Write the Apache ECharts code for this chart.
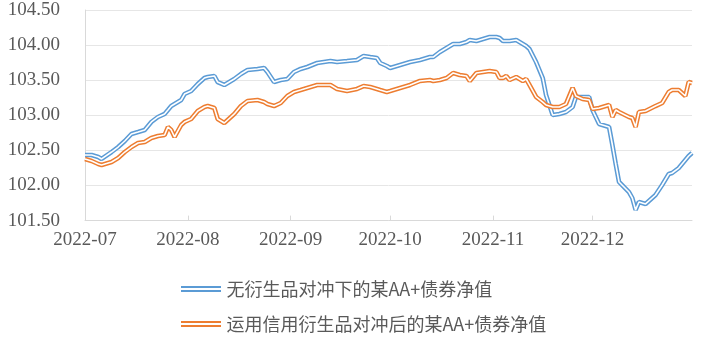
<!DOCTYPE html>
<html>
<head>
<meta charset="utf-8">
<script src="https://cdn.jsdelivr.net/npm/echarts@6/dist/echarts.min.js"></script>
<style>
html,body{margin:0;padding:0;background:#fff;}
#chart{width:718px;height:350px;}
</style>
</head>
<body>
<div id="chart"></div>
<script>
const dates = [
'2022-07-01','2022-07-03','2022-07-05','2022-07-06','2022-07-09','2022-07-11','2022-07-13','2022-07-15','2022-07-17','2022-07-19',
'2022-07-21','2022-07-23','2022-07-25','2022-07-26','2022-07-27','2022-07-28','2022-07-30','2022-07-31','2022-08-02','2022-08-04',
'2022-08-06','2022-08-07','2022-08-09','2022-08-10','2022-08-12','2022-08-14','2022-08-15','2022-08-17','2022-08-19','2022-08-22',
'2022-08-24','2022-08-25','2022-08-27','2022-08-29','2022-08-31','2022-09-02','2022-09-04','2022-09-06','2022-09-09','2022-09-11',
'2022-09-13','2022-09-15','2022-09-18','2022-09-21','2022-09-23','2022-09-25','2022-09-27','2022-09-28','2022-09-30','2022-10-01',
'2022-10-04','2022-10-07','2022-10-10','2022-10-13','2022-10-14','2022-10-16','2022-10-18','2022-10-20','2022-10-22','2022-10-24',
'2022-10-25','2022-10-27','2022-10-29','2022-10-31','2022-11-02','2022-11-03','2022-11-04','2022-11-05','2022-11-06','2022-11-08',
'2022-11-10','2022-11-11','2022-11-12','2022-11-14','2022-11-16','2022-11-17','2022-11-19','2022-11-21','2022-11-23','2022-11-25',
'2022-11-26','2022-11-28','2022-11-30','2022-12-01','2022-12-03','2022-12-06','2022-12-07','2022-12-08','2022-12-09','2022-12-12',
'2022-12-13','2022-12-14','2022-12-15','2022-12-17','2022-12-20','2022-12-22','2022-12-24','2022-12-25','2022-12-27','2022-12-29',
'2022-12-30','2022-12-31'
];
const seriesNames = ['无衍生品对冲下的某AA+债券净值', '运用信用衍生品对冲后的某AA+债券净值'];
const noHedge = [
102.434,102.434,102.406,102.378,102.477,102.548,102.634,102.734,102.762,102.791,
102.905,102.976,103.019,103.075,103.132,103.161,103.218,103.303,103.346,103.446,
103.531,103.546,103.560,103.474,103.432,103.489,103.517,103.588,103.645,103.660,
103.674,103.617,103.474,103.503,103.517,103.617,103.660,103.688,103.745,103.759,
103.773,103.759,103.773,103.788,103.845,103.830,103.816,103.745,103.702,103.674,
103.717,103.759,103.788,103.830,103.830,103.902,103.959,104.016,104.016,104.044,
104.073,104.058,104.087,104.115,104.115,104.101,104.058,104.058,104.058,104.073,
104.016,103.987,103.944,103.759,103.531,103.289,103.004,103.019,103.047,103.118,
103.261,103.261,103.261,103.075,102.876,102.833,102.577,102.306,102.050,101.907,
101.822,101.652,101.765,101.737,101.865,102.007,102.164,102.178,102.249,102.363,
102.420,102.463
];
const hedged = [
102.378,102.349,102.306,102.292,102.335,102.392,102.477,102.548,102.605,102.620,
102.677,102.705,102.719,102.833,102.791,102.691,102.862,102.905,102.947,103.061,
103.118,103.132,103.104,102.947,102.890,102.976,103.019,103.132,103.204,103.218,
103.189,103.161,103.132,103.175,103.275,103.332,103.360,103.389,103.432,103.432,
103.432,103.375,103.346,103.375,103.417,103.403,103.375,103.360,103.332,103.346,
103.389,103.432,103.489,103.503,103.489,103.503,103.531,103.603,103.574,103.560,
103.489,103.603,103.617,103.631,103.617,103.531,103.531,103.560,103.503,103.546,
103.489,103.517,103.432,103.261,103.189,103.147,103.118,103.118,103.161,103.389,
103.275,103.232,103.218,103.090,103.104,103.147,102.976,103.075,103.047,102.976,
102.962,102.833,103.047,103.061,103.132,103.175,103.332,103.360,103.360,103.275,
103.474,103.460
];
const yTicks = ['101.50','102.00','102.50','103.00','103.50','104.00','104.50'];

const blue = '#5b9bd5', orange = '#ed7d31';
function pairs(vals){ return dates.map((d,i)=>[d, vals[i]]); }
function outer(name, color, vals){
  return {name:name, type:'line', data:pairs(vals), showSymbol:false, symbol:'none', color:color,
    lineStyle:{color:color, width:4.6}, itemStyle:{color:color}, animation:false, silent:true};
}
function inner(name, vals){
  return {name:name, type:'line', data:pairs(vals), showSymbol:false, symbol:'none', color:'#fff',
    lineStyle:{color:'#ffffff', width:1.6}, animation:false, silent:true};
}
const chart = echarts.init(document.getElementById('chart'), null, {renderer:'canvas'});
chart.setOption({
  backgroundColor:'#ffffff',
  animation:false,
  grid:{left:85, right:26, top:10, bottom:129.4, containLabel:false},
  legend:{
    data:seriesNames, orient:'vertical', left:176, top:275, itemGap:17,
    icon:'path://M0,0H40V2H0Z M0,4H40V6H0Z', itemWidth:41, itemHeight:6,
    textStyle:{fontFamily:'"Noto Sans CJK SC"', fontSize:18, color:'#595959'}
  },
  xAxis:{
    type:'time', min:'2022-07-01', max:'2022-12-31',
    splitNumber:6, minInterval:28*86400000,
    axisLine:{show:true, lineStyle:{color:'#d9d9d9', width:1}},
    axisTick:{show:true, inside:true, length:5, lineStyle:{color:'#d9d9d9'}},
    splitLine:{show:false},
    axisLabel:{formatter:'{yyyy}-{MM}', margin:10, showMaxLabel:false, hideOverlap:false,
      fontFamily:'"Liberation Serif"', fontSize:19, color:'#595959'}
  },
  yAxis:{
    type:'value', min:101.5, max:104.5, interval:0.5,
    axisLine:{show:true, lineStyle:{color:'#d9d9d9'}},
    axisTick:{show:false},
    splitLine:{show:true, lineStyle:{color:'#e6e6e6', width:1}},
    axisLabel:{margin:25, formatter:function(v){ return yTicks[Math.round((v-101.5)/0.5)]; },
      fontFamily:'"Liberation Serif"', fontSize:19, color:'#595959'}
  },
  series:[
    outer(seriesNames[0], blue, noHedge),
    inner('_core0', noHedge),
    outer(seriesNames[1], orange, hedged),
    inner('_core1', hedged)
  ]
});
</script>
</body>
</html>
